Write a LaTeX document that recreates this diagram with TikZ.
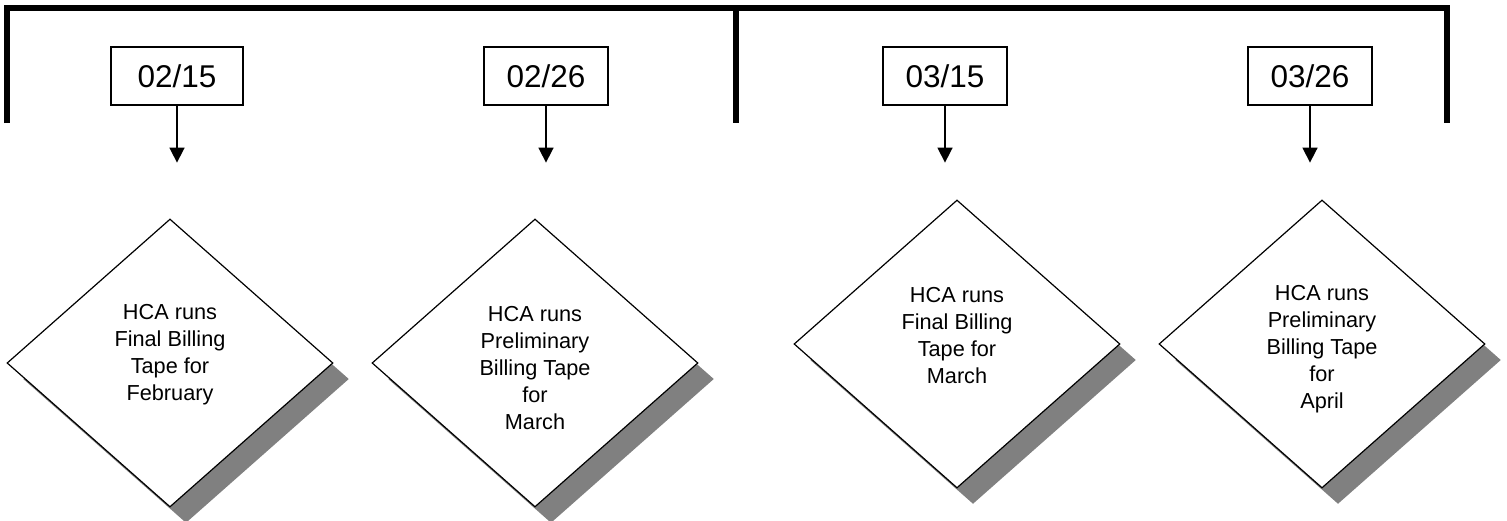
\documentclass[tikz,border=0pt]{standalone}
\usepackage{fontspec}
\setmainfont{Liberation Sans}
\usetikzlibrary{arrows.meta,shapes.geometric,shadows}

\begin{document}
\begin{tikzpicture}[x=1pt,y=-1pt,>={Triangle[width=15pt,length=15pt]}]
\tikzset{
    datebox/.style={%
        draw=black, line width=1.2pt,
        rectangle,
        minimum height=58pt,
        minimum width=124pt,
        inner sep=0pt,
        font=\fontsize{31.5}{36}\selectfont
        },
    runbox/.style={%
        draw=black, line width=1.2pt, fill=white,
        diamond,
        minimum width=326pt,
        minimum height=288pt,
        inner sep=0pt,
        drop shadow={shadow xshift=16pt, shadow yshift=-16pt, fill=gray, opacity=1}
        },
    runtext/.style={align=center, font=\fontsize{21.7}{27}\selectfont},
    bar/.style={line width=6pt},
}
\useasboundingbox (0,0) rectangle (1507,520);
%%%MONTHS
\draw[bar] (7,123) -- (7,8) -- (1447,8) -- (1447,123);
\draw[bar] (736,8) -- (736,123);
%%%DATES
\node[datebox, minimum width=132pt] (feb15) at (177,76) {02/15};
\node[datebox] (feb26) at (546,76) {02/26};
\node[datebox] (mar15) at (945,76) {03/15};
\node[datebox] (mar26) at (1310,76) {03/26};
%%%BILLING RUNS
\node[runbox, label={[runtext, yshift=8.5pt]center:HCA runs\\Final Billing\\Tape for\\February}] (febfinal) at (170,363) {};
\node[runbox, label={[runtext, yshift=-5pt]center:HCA runs\\Preliminary\\Billing Tape\\for\\March}] (marprelim) at (535,363) {};
\node[runbox, label={[runtext, yshift=8.5pt]center:HCA runs\\Final Billing\\Tape for\\March}] (marfinal) at (957,344) {};
\node[runbox, label={[runtext, yshift=-5pt]center:HCA runs\\Preliminary\\Billing Tape\\for\\April}] (aprprelim) at (1322,344) {};
%%%ARROWS
\coordinate (t1) at ([yshift=-57pt]feb15.south);
\coordinate (t2) at ([yshift=-57pt]feb26.south);
\coordinate (t3) at ([yshift=-57pt]mar15.south);
\coordinate (t4) at ([yshift=-57pt]mar26.south);
\draw[->, line width=1.6pt] (feb15) -- (t1);
\draw[->, line width=1.6pt] (feb26) -- (t2);
\draw[->, line width=1.6pt] (mar15) -- (t3);
\draw[->, line width=1.6pt] (mar26) -- (t4);
\end{tikzpicture}
\end{document}
